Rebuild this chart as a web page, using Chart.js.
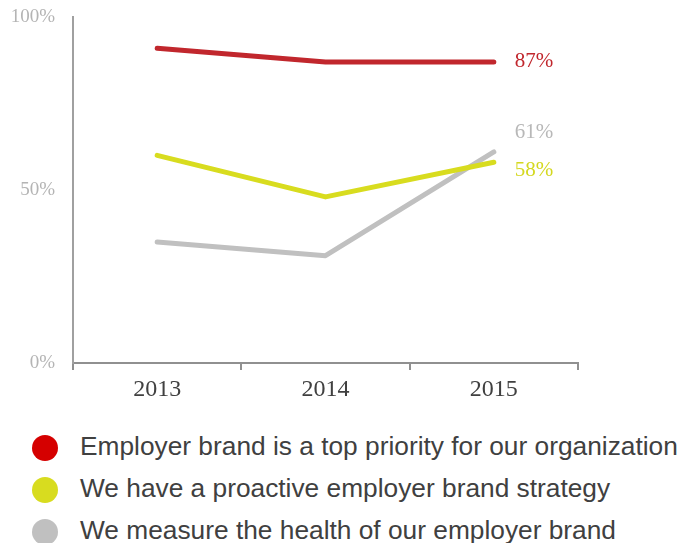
<!DOCTYPE html>
<html>
<head>
<meta charset="utf-8">
<script src="https://cdn.jsdelivr.net/npm/chart.js@4.4.0/dist/chart.umd.min.js"></script>
<style>
    html, body { margin: 0; padding: 0; background: #fff; }
    #wrap { position: relative; width: 682px; height: 543px; overflow: hidden; }
    #chart-box { position: absolute; left: 0; top: 0; width: 682px; height: 410px; }
    #legend { position: absolute; left: 0; top: 425px; width: 682px; }
    .legend-row { position: relative; height: 42px; }
    .legend-dot { position: absolute; left: 32px; top: 10px; width: 26px; height: 26px; border-radius: 50%; }
    .legend-text { position: absolute; left: 80px; top: 5px; font-family: "Liberation Sans", Arial, sans-serif;
        font-size: 26.3px; color: #404040; white-space: nowrap; line-height: 32px; }
</style>
</head>
<body>
<div id="wrap">
    <div id="chart-box"><canvas id="trend"></canvas></div>
    <div id="legend"></div>
</div>
<script>
// Survey years and share of respondents (%)
var years = ["2013", "2014", "2015"];
var seriesNames = [
    "Employer brand is a top priority for our organization",
    "We have a proactive employer brand strategy",
    "We measure the health of our employer brand"
];
var topPriority = [91, 87, 87];
var proactiveStrategy = [60, 48, 58];
var measureHealth = [35, 31, 61];
var yTicks = [0, 50, 100];

var lineColors = ["#c1272d", "#d8dc1f", "#c0c0c0"];
var dotColors = ["#d50000", "#d8dc1f", "#c0c0c0"];
var labelColors = ["#c1272d", "#d4d820", "#b8b8b8"];
// vertical nudge for the end labels so 61% / 58% don't collide
var labelShift = [0, 8, -19];

var serif = "'Liberation Serif', 'Times New Roman', serif";

// value labels to the right of the last point
var endLabels = {
    id: "endLabels",
    afterDatasetsDraw: function(chart) {
        var ctx = chart.ctx;
        var x = chart.scales.x;
        var y = chart.scales.y;
        ctx.save();
        ctx.font = "21px " + serif;
        ctx.textAlign = "left";
        ctx.textBaseline = "middle";
        chart.data.datasets.forEach(function(ds, i) {
            var last = ds.data.length - 1;
            var px = x.getPixelForValue(last) + 21;
            var py = y.getPixelForValue(ds.data[last]) + labelShift[i];
            ctx.fillStyle = labelColors[i];
            ctx.fillText(ds.data[last] + "%", px, py);
        });
        ctx.restore();
    }
};

var values = [topPriority, proactiveStrategy, measureHealth];

new Chart(document.getElementById("trend"), {
    type: "line",
    data: {
        labels: years,
        datasets: values.map(function(v, i) {
            return {
                label: seriesNames[i],
                data: v,
                borderColor: lineColors[i],
                backgroundColor: lineColors[i],
                borderWidth: 5,
                borderCapStyle: "round",
                borderJoinStyle: "round",
                pointRadius: 0,
                tension: 0,
                fill: false
            };
        })
    },
    options: {
        responsive: true,
        maintainAspectRatio: false,
        animation: false,
        layout: { padding: { left: 0, right: 104, top: 17, bottom: 0 } },
        plugins: { legend: { display: false }, tooltip: { enabled: false } },
        scales: {
            x: {
                offset: true,
                grid: { display: true, offset: true, drawOnChartArea: false, drawTicks: true, tickLength: 7, color: "#909090", lineWidth: 2 },
                border: { display: true, color: "#909090", width: 2 },
                ticks: { color: "#404040", font: { family: serif, size: 24 }, padding: 5 },
                afterFit: function(s) { s.height = 47; }
            },
            y: {
                min: 0,
                max: 100,
                afterBuildTicks: function(s) { s.ticks = yTicks.map(function(v) { return { value: v }; }); },
                grid: { display: false, drawTicks: false },
                border: { display: true, color: "#a0a0a0", width: 2 },
                ticks: {
                    color: "#b4b4b4",
                    font: { family: serif, size: 19 },
                    padding: 18,
                    callback: function(v) { return v + "%"; }
                },
                afterFit: function(s) {
                    s.width = 73;
                    s.paddingTop = 0;
                    s.paddingBottom = 0;
                }
            }
        }
    },
    plugins: [endLabels]
});

// legend rows
var legendHtml = "";
seriesNames.forEach(function(name, i) {
    legendHtml += '<div class="legend-row"><span class="legend-dot" style="background:' + dotColors[i] + '"></span>' +
        '<span class="legend-text">' + name + '</span></div>';
});
document.getElementById("legend").innerHTML = legendHtml;
</script>
</body>
</html>
